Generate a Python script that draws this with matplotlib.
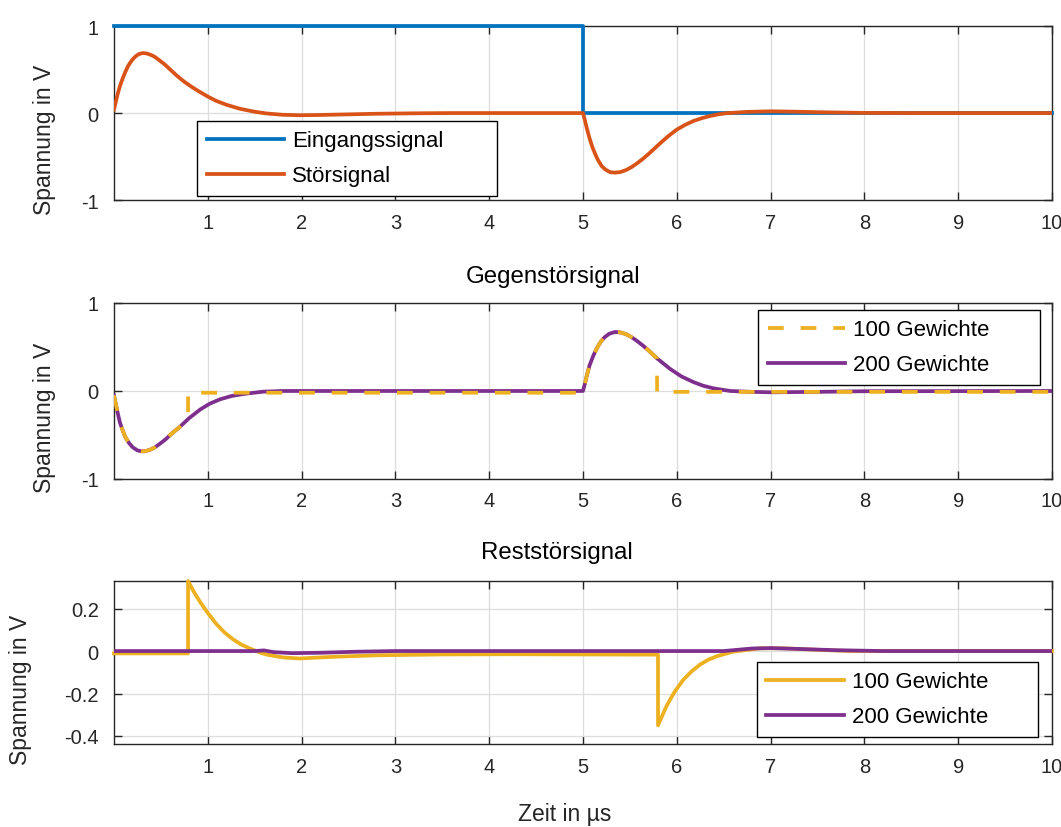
import matplotlib.pyplot as plt

plt.rcParams['font.family'] = ['Liberation Sans', 'DejaVu Sans']
plt.rcParams['axes.unicode_minus'] = False

# Eingangssignal
t_ein = [0.0, 5.0, 5.0, 10.0]
v_ein = [1.0, 1.0, 0.0, 0.0]

# Störsignal
t_stoer = [0.0, 0.02, 0.04, 0.064, 0.09, 0.12, 0.15, 0.18, 0.21, 0.24, 0.27, 0.31, 0.35, 0.39,
           0.43, 0.48, 0.54, 0.6, 0.67, 0.75, 0.83, 0.92, 1.0, 1.09, 1.2, 1.34, 1.5, 1.63,
           1.8, 1.98, 2.2, 2.5, 2.8, 3.2, 3.6, 4.99,
           5.0, 5.02, 5.04, 5.07, 5.10, 5.13, 5.16, 5.20, 5.24, 5.29, 5.34, 5.40, 5.46, 5.52,
           5.58, 5.64, 5.70, 5.76, 5.82, 5.91, 6.0, 6.09, 6.18, 6.27, 6.35, 6.44, 6.53, 6.74, 7.0,
           7.3, 7.6, 8.0, 8.5, 10.0]
v_stoer = [0.04, 0.13, 0.22, 0.31, 0.39, 0.47, 0.54, 0.59, 0.63, 0.66, 0.68, 0.69, 0.685, 0.67,
           0.65, 0.61, 0.56, 0.50, 0.43, 0.36, 0.30, 0.24, 0.19, 0.14, 0.095, 0.05, 0.015, -0.005,
           -0.02, -0.025, -0.022, -0.015, -0.008, -0.003, 0.0, 0.0,
           0.0, -0.08, -0.17, -0.29, -0.39, -0.47, -0.54, -0.61, -0.65, -0.68, -0.685, -0.678, -0.655, -0.62,
           -0.575, -0.525, -0.47, -0.41, -0.35, -0.265, -0.19, -0.135, -0.09, -0.058, -0.035, -0.015, -0.002, 0.013, 0.02,
           0.015, 0.008, 0.002, 0.0, 0.0]

# Gegenstörsignal, 200 Gewichte
t_gegen200 = [0.0, 0.02, 0.04, 0.064, 0.09, 0.12, 0.16, 0.20, 0.25, 0.29, 0.33, 0.38, 0.43, 0.49,
              0.55, 0.62, 0.70, 0.80, 0.92, 1.02, 1.13, 1.25, 1.38, 1.59, 1.8, 2.2, 5.0,
              5.02, 5.04, 5.07, 5.11, 5.15, 5.19, 5.23, 5.28, 5.34, 5.40, 5.46, 5.52, 5.58,
              5.64, 5.70, 5.79, 5.86, 5.93, 6.05, 6.18, 6.28, 6.39, 6.57, 6.8, 7.0, 7.5, 8.0, 10.0]
v_gegen200 = [-0.05, -0.15, -0.25, -0.36, -0.44, -0.52, -0.59, -0.64, -0.675, -0.685, -0.685, -0.67, -0.645, -0.60,
              -0.55, -0.48, -0.41, -0.31, -0.21, -0.145, -0.095, -0.058, -0.034, -0.008, 0.0, 0.0, 0.0,
              0.08, 0.17, 0.29, 0.40, 0.49, 0.56, 0.61, 0.65, 0.67, 0.665, 0.645, 0.61, 0.565,
              0.515, 0.46, 0.37, 0.31, 0.25, 0.165, 0.10, 0.06, 0.03, 0.0, -0.01, -0.015, -0.01, -0.003, 0.0]

# Gegenstörsignal, 100 Gewichte
t_gegen100 = [0.0, 0.02, 0.04, 0.064, 0.09, 0.12, 0.16, 0.20, 0.25, 0.29, 0.33, 0.38, 0.43, 0.49,
              0.55, 0.62, 0.70, 0.79, 0.79, 5.0,
              5.02, 5.04, 5.07, 5.11, 5.15, 5.19, 5.23, 5.28, 5.34, 5.40, 5.46, 5.52, 5.58,
              5.64, 5.70, 5.79, 5.79, 10.0]
v_gegen100 = [-0.05, -0.15, -0.25, -0.36, -0.44, -0.52, -0.59, -0.64, -0.675, -0.685, -0.685, -0.67, -0.645, -0.60,
              -0.55, -0.48, -0.41, -0.32, -0.02, -0.02,
              0.08, 0.17, 0.29, 0.40, 0.49, 0.56, 0.61, 0.65, 0.67, 0.665, 0.645, 0.61, 0.565,
              0.515, 0.46, 0.37, -0.01, -0.01]

# Reststörsignal, 100 Gewichte
t_rest100 = [0.0, 0.79, 0.79, 0.85, 0.92, 1.0, 1.09, 1.18, 1.27, 1.36, 1.45, 1.55, 1.63, 1.8,
             1.98, 2.34, 2.8, 3.5, 4.2, 5.0, 5.8, 5.8, 5.85, 5.89, 5.94, 5.98, 6.07, 6.16, 6.25,
             6.34, 6.43, 6.6, 6.89, 7.13, 7.49, 7.85, 10.0]
v_rest100 = [-0.011, -0.011, 0.33, 0.28, 0.23, 0.18, 0.128, 0.087, 0.055, 0.03, 0.012, -0.006, -0.017, -0.03,
             -0.035, -0.027, -0.02, -0.016, -0.015, -0.016, -0.017, -0.35, -0.30, -0.26, -0.22, -0.19, -0.135, -0.095, -0.063,
             -0.04, -0.024, -0.003, 0.013, 0.013, 0.006, 0.0, 0.0]

# Reststörsignal, 200 Gewichte
t_rest200 = [0.0, 1.5, 1.6, 1.7, 1.9, 2.2, 2.6, 3.0, 5.0, 6.5, 6.8, 7.0, 7.3, 7.7, 8.2, 10.0]
v_rest200 = [0.0, 0.0, 0.003, -0.005, -0.01, -0.008, -0.003, 0.0, 0.0, 0.0, 0.012, 0.014, 0.01, 0.004, 0.0, 0.0]

x_ticks = [1, 2, 3, 4, 5, 6, 7, 8, 9, 10]

BLUE = '#0072BD'
ORANGE = '#D95319'
YELLOW = '#EDB120'
PURPLE = '#7E2F8E'
LW = 2.7
FS = 14.5
DARK = '#262626'

fig = plt.figure(figsize=(10.61, 8.28), dpi=100)
ax1 = fig.add_axes([0.1074, 0.7572, 0.8841, 0.2101])
ax2 = fig.add_axes([0.1074, 0.4203, 0.8841, 0.2126])
ax3 = fig.add_axes([0.1074, 0.1002, 0.8841, 0.1969])


def style(ax, yticks, ylabels, ylab_pos):
    ax.set_xlim(0, 10)
    ax.set_xticks(x_ticks)
    ax.set_xticklabels([str(x) for x in x_ticks])
    ax.set_yticks(yticks)
    ax.set_yticklabels(ylabels)
    ax.grid(True, color='#dddddd', lw=0.9)
    ax.set_axisbelow(True)
    ax.tick_params(direction='in', top=True, right=True, length=6, width=1,
                   colors=DARK, labelsize=FS, labelcolor=DARK)
    ax.tick_params(axis='x', pad=9)
    ax.tick_params(axis='y', pad=11)
    for s in ax.spines.values():
        s.set_color(DARK)
        s.set_linewidth(1)
    ax.set_ylabel('Spannung in V', fontsize=16.5, color=DARK)
    ax.yaxis.set_label_coords(*ylab_pos)


def legend(ax, box):
    leg = ax.legend(fontsize=16, frameon=True, fancybox=False, framealpha=1,
                    edgecolor='black', handlelength=3.5, handletextpad=0.36,
                    labelspacing=0.63, borderpad=0.43, loc='lower left',
                    bbox_to_anchor=box, mode='expand', borderaxespad=0)
    leg.get_frame().set_linewidth(1)
    return leg


# Oben: Eingangs- und Störsignal
ax1.plot(t_ein, v_ein, color=BLUE, lw=LW, label='Eingangssignal', clip_on=False, zorder=3)
ax1.plot(t_stoer, v_stoer, color=ORANGE, lw=LW, label='Störsignal', zorder=3)
ax1.set_ylim(-1, 1)
style(ax1, [-1, 0, 1], ['-1', '0', '1'], (-0.0618, 0.351))
legend(ax1, (0.0885, 0.023, 0.3198, 0.437))

# Mitte: Gegenstörsignal
ax2.plot(t_gegen100, v_gegen100, color=YELLOW, lw=LW, ls=(0, (4.2, 4.5)),
         dash_capstyle='butt', label='100 Gewichte', zorder=4)
ax2.plot(t_gegen200, v_gegen200, color=PURPLE, lw=LW, label='200 Gewichte', zorder=3)
ax2.set_ylim(-1, 1)
style(ax2, [-1, 0, 1], ['-1', '0', '1'], (-0.0618, 0.352))
legend(ax2, (0.6866, 0.534, 0.3006, 0.443))
ax2.text(0.468, 1.153, 'Gegenstörsignal', transform=ax2.transAxes,
         ha='center', va='center', fontsize=17.3, color='black')

# Unten: Reststörsignal
ax3.plot(t_rest100, v_rest100, color=YELLOW, lw=LW, label='100 Gewichte', clip_on=False, zorder=3)
ax3.plot(t_rest200, v_rest200, color=PURPLE, lw=LW, label='200 Gewichte', zorder=3)
ax3.set_ylim(-0.438, 0.33)
style(ax3, [-0.4, -0.2, 0, 0.2], ['-0.4', '-0.2', '0', '0.2'], (-0.0874, 0.337))
legend(ax3, (0.6852, 0.043, 0.300, 0.462))
ax3.text(0.472, 1.178, 'Reststörsignal', transform=ax3.transAxes,
         ha='center', va='center', fontsize=17.3, color='black')
ax3.set_xlabel('Zeit in µs', fontsize=16.5, color=DARK)
ax3.xaxis.set_label_coords(0.481, -0.356)

fig.savefig('out.png', dpi=100)
